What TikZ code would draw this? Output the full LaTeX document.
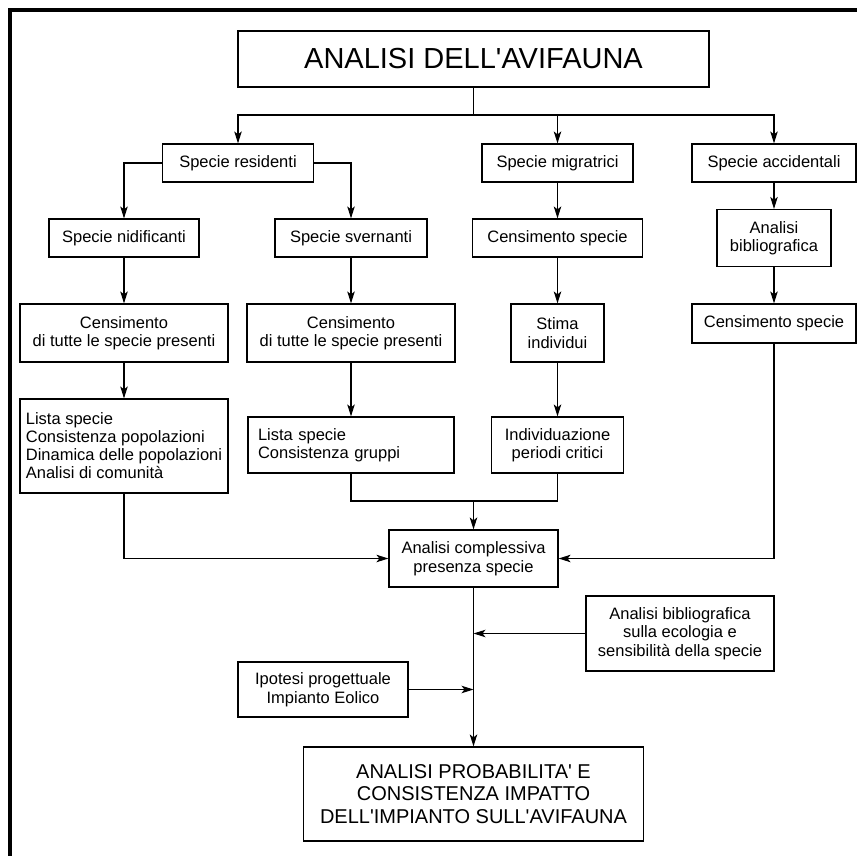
\documentclass[tikz,border=0pt]{standalone}
\usepackage{fontspec}
\setmainfont{Liberation Sans}[Ligatures=TeXOff]
\usetikzlibrary{arrows.meta}
\begin{document}
\begin{tikzpicture}[x=1pt,y=-1pt,
  box/.style={draw,line width=1.2pt,align=center,inner sep=0pt,font=\fontsize{16.5}{18.5}\selectfont},
  link/.style={line width=1.1pt},
  arr/.style={link,-{Stealth[length=12pt,width=7.5pt,inset=3pt]}}]
\useasboundingbox (0,0) rectangle (857,856);
\draw[line width=4.5pt] (10,860) -- (10,10) -- (860,10);
\node[box,minimum width=471,minimum height=56,font=\fontsize{29}{32}\selectfont] (title) at (473.5,59) {ANALISI DELL'AVIFAUNA};
\node[box,minimum width=151,minimum height=38] (res) at (238,163) {Specie residenti};
\node[box,minimum width=151,minimum height=38] (mig) at (557.5,163) {Specie migratrici};
\node[box,minimum width=164,minimum height=38] (acc) at (774,163) {Specie accidentali};
\node[box,minimum width=150,minimum height=38] (nid) at (124,238) {Specie nidificanti};
\node[box,minimum width=152,minimum height=38] (sve) at (351,238) {Specie svernanti};
\node[box,minimum width=170,minimum height=38] (cmig) at (557.5,238) {Censimento specie};
\node[box,minimum width=114,minimum height=57] (bib) at (774,238) {Analisi\\bibliografica};
\node[box,minimum width=208,minimum height=58] (cnid) at (124,333) {Censimento\\di tutte le specie presenti};
\node[box,minimum width=208,minimum height=58] (csve) at (351,333) {Censimento\\di tutte le specie presenti};
\node[box,minimum width=93,minimum height=58] (stima) at (557.5,333) {Stima\\individui};
\node[box,minimum width=164,minimum height=39] (cacc) at (774,323.5) {Censimento specie};
\node[box,minimum width=208,minimum height=94,align=left,font=\fontsize{16.5}{18}\selectfont] (lnid) at (124,446) {Lista specie\\Consistenza popolazioni\\Dinamica delle popolazioni\\Analisi di comunità};
\node[box,minimum height=56,text width=186,inner xsep=10,align=left,font=\fontsize{16.5}{18}\selectfont] (lsve) at (351,445) {Lista specie\\Consistenza gruppi};
\node[box,minimum width=132,minimum height=56] (ind) at (557.5,445) {Individuazione\\periodi critici};
\node[box,minimum width=169,minimum height=57] (tot) at (473.5,558.5) {Analisi complessiva\\presenza specie};
\node[box,minimum width=188,minimum height=75] (bibeco) at (680,633.5) {Analisi bibliografica\\sulla ecologia e\\sensibilità della specie};
\node[box,minimum width=170,minimum height=55] (ipo) at (323,689.5) {Ipotesi progettuale\\Impianto Eolico};
\node[box,minimum width=340,minimum height=94,font=\fontsize{20}{22.5}\selectfont] (fin) at (473.5,794) {ANALISI PROBABILITA' E\\CONSISTENZA IMPATTO\\DELL'IMPIANTO SULL'AVIFAUNA};
\coordinate (hub) at (473.5,115);
\coordinate (join) at (473.5,501);
\draw[link] (title) -- (hub);
\draw[arr] (hub) -| (res);
\draw[arr] (hub) -| (mig);
\draw[arr] (hub) -| (acc);
\draw[arr] (res) -| (nid);
\draw[arr] (res) -| (sve);
\draw[arr] (nid) -- (cnid);
\draw[arr] (cnid) -- (lnid);
\draw[arr] (sve) -- (csve);
\draw[arr] (csve) -- (lsve);
\draw[arr] (mig) -- (cmig);
\draw[arr] (cmig) -- (stima);
\draw[arr] (stima) -- (ind);
\draw[arr] (acc) -- (bib);
\draw[arr] (bib) -- (cacc);
\draw[link] (lsve) |- (join);
\draw[link] (ind) |- (join);
\draw[arr] (join) -- (tot);
\draw[arr] (lnid) |- (tot);
\draw[arr] (cacc) |- (tot);
\draw[arr] (tot) -- (fin);
\draw[arr] (bibeco) -- (bibeco -| tot);
\draw[arr] (ipo) -- (ipo -| tot);
\end{tikzpicture}
\end{document}
